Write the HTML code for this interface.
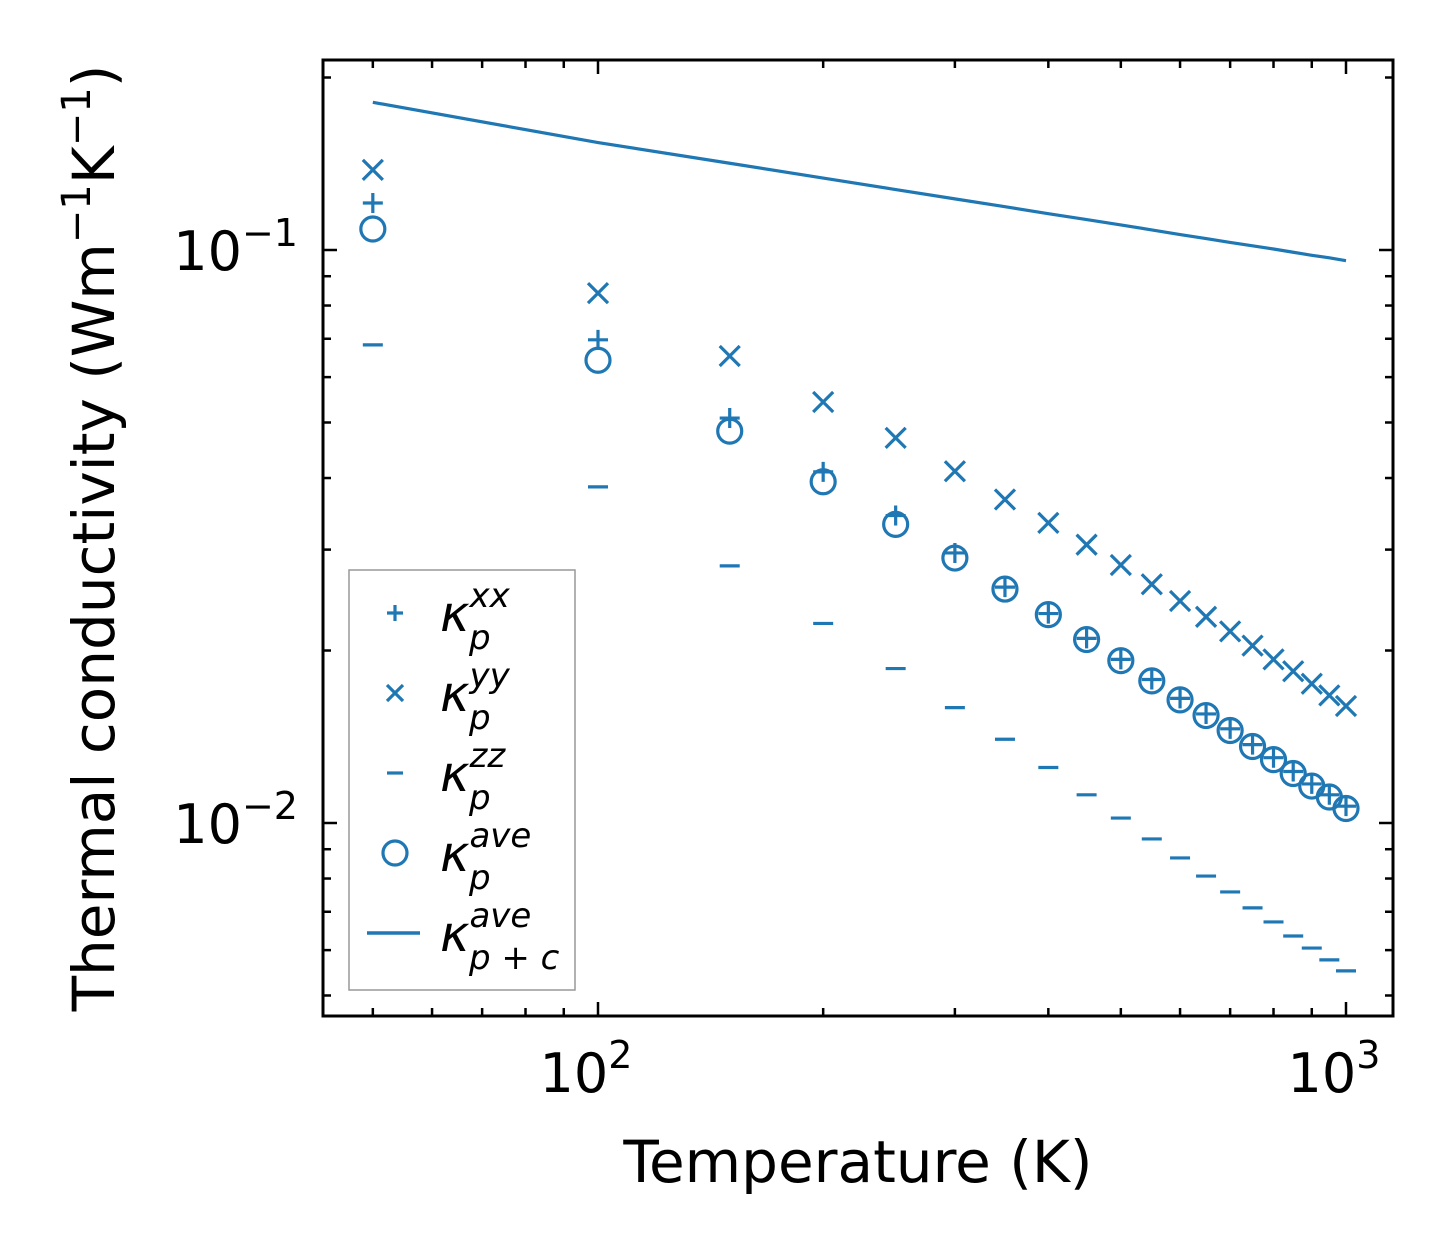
<!DOCTYPE html>
<html><head><meta charset="utf-8">
<style>
body{margin:0;background:#fff;}
svg{display:block;font-family:"DejaVu Sans","Liberation Sans",sans-serif;}
</style></head>
<body>
<svg id="chart" width="1454" height="1254" viewBox="0 0 1454 1254" xmlns="http://www.w3.org/2000/svg"></svg>
<script>
const temps=[50,100,150,200,250,300,350,400,450,500,550,600,650,700,750,800,850,900,950,1000];
const kxx=[0.1208,0.0697,0.0509,0.0410,0.0344,0.0296,0.0258,0.0232,0.0210,0.0193,0.0178,0.0165,0.0155,0.0146,0.0137,0.0130,0.0123,0.0117,0.0112,0.0107];
const kyy=[0.138,0.0841,0.0653,0.0543,0.0470,0.0411,0.0367,0.0334,0.0306,0.0282,0.0261,0.0244,0.0229,0.0216,0.0204,0.0193,0.0184,0.0175,0.0167,0.0160];
const kzz=[0.0683,0.0386,0.0281,0.0223,0.0186,0.0159,0.0140,0.0125,0.0112,0.0102,0.00938,0.00869,0.00808,0.00758,0.00711,0.00672,0.00635,0.00605,0.00577,0.00552];
const kave=[0.1088,0.0642,0.0483,0.0394,0.0332,0.0290,0.0256,0.0231,0.0209,0.0192,0.0177,0.0164,0.0154,0.0145,0.0136,0.0129,0.0122,0.0116,0.0111,0.0106];
const ktot=[0.181,0.154,0.1417,0.1335,0.1275,0.1228,0.1190,0.1157,0.1130,0.1106,0.1084,0.1064,0.1047,0.1031,0.1017,0.1004,0.0991,0.0979,0.0969,0.0958];
const xMajor=[100,1000];
const xMinor=[50,60,70,80,90,200,300,400,500,600,700,800,900];
const yMajor=[0.01,0.1];
const yMinor=[0.005,0.006,0.007,0.008,0.009,0.02,0.03,0.04,0.05,0.06,0.07,0.08,0.09,0.2];

const NS="http://www.w3.org/2000/svg";
const svg=document.getElementById('chart');
const L=323,R=1393,T=60,B=1016;
const C="#1f77b4";
function xs(v){return 598+(Math.log10(v)-2)*748;}
function ys(v){return 250-(Math.log10(v)+1)*573;}
function mk(tag,attrs,parent){const e=document.createElementNS(NS,tag);for(const k in attrs)e.setAttribute(k,attrs[k]);(parent||svg).appendChild(e);return e;}

const defs=mk('defs',{});
const cp=mk('clipPath',{id:'clip'},defs);
mk('rect',{x:L,y:T,width:R-L,height:B-T},cp);

const tg=mk('g',{stroke:'#000','stroke-width':2.5});


xMajor.forEach(v=>{const x=xs(v);mk('line',{x1:x,x2:x,y1:B,y2:B-14},tg);mk('line',{x1:x,x2:x,y1:T,y2:T+14},tg);});
xMinor.forEach(v=>{const x=xs(v);mk('line',{x1:x,x2:x,y1:B,y2:B-8},tg);mk('line',{x1:x,x2:x,y1:T,y2:T+8},tg);});
yMajor.forEach(v=>{const y=ys(v);mk('line',{x1:L,x2:L+14,y1:y,y2:y},tg);mk('line',{x1:R,x2:R-14,y1:y,y2:y},tg);});
yMinor.forEach(v=>{const y=ys(v);mk('line',{x1:L,x2:L+8,y1:y,y2:y},tg);mk('line',{x1:R,x2:R-8,y1:y,y2:y},tg);});

function powLabel(x,y,exp,anchor,name){
  const t=mk('text',{x:x,y:y,'font-size':54,'text-anchor':anchor,fill:'#000'});
  
  
  const a=mk('tspan',{},t);a.textContent='10';
  const b=mk('tspan',{dy:-24,'font-size':38},t);b.textContent=exp;
  return t;
}
powLabel(xs(100)-12,1092,'2','middle','x-tick-label-100');
powLabel(xs(1000)-12,1092,'3','middle','x-tick-label-1000');
powLabel(298,ys(0.1)+20,'\u22121','end','y-tick-label-0.1');
powLabel(298,ys(0.01)+20,'\u22122','end','y-tick-label-0.01');

const xt=mk('text',{x:858,y:1182,'font-size':58,'text-anchor':'middle',fill:'#000'});


xt.textContent='Temperature (K)';
const yt=mk('text',{x:0,y:0,'font-size':58,'text-anchor':'middle',fill:'#000',transform:'translate(114,538) rotate(-90)'});


const y1=mk('tspan',{},yt);y1.textContent='Thermal conductivity (Wm';
const y2=mk('tspan',{dy:-24,'font-size':40},yt);y2.textContent='\u22121';
const y3=mk('tspan',{dy:24},yt);y3.textContent='K';
const y4=mk('tspan',{dy:-24,'font-size':40},yt);y4.textContent='\u22121';
const y5=mk('tspan',{dy:24},yt);y5.textContent=')';

const g=mk('g',{'clip-path':'url(#clip)',stroke:C,'stroke-width':3.2,fill:'none'});


const line=mk('polyline',{points:temps.map((t,i)=>xs(t)+','+ys(ktot[i])).join(' ')},g);


const s=10;
temps.forEach((t,i)=>{
  const x=xs(t);
  let y=ys(kxx[i]);
  const p=mk('path',{d:`M${x-s} ${y}H${x+s}M${x} ${y-s}V${y+s}`},g);
  
  
  y=ys(kyy[i]);
  const q=mk('path',{d:`M${x-s} ${y-s}L${x+s} ${y+s}M${x-s} ${y+s}L${x+s} ${y-s}`},g);
  
  
  y=ys(kzz[i]);
  const z=mk('path',{d:`M${x-s} ${y}H${x+s}`},g);
  
  
  y=ys(kave[i]);
  const c=mk('circle',{cx:x,cy:y,r:12},g);
  
  
});

const fr=mk('rect',{x:L,y:T,width:R-L,height:B-T,fill:'none',stroke:'#000','stroke-width':3});



const lg=mk('g',{});


mk('rect',{x:349,y:570,width:226,height:420,fill:'#fff',stroke:'#999','stroke-width':1.5},lg);
const entries=[['xx','p','kappa-xx'],['yy','p','kappa-yy'],['zz','p','kappa-zz'],['ave','p','kappa-ave'],['ave','p + c','kappa-total']];
const ls=mk('g',{stroke:C,'stroke-width':3.2,fill:'none'},lg);
entries.forEach((e,i)=>{
  const cy=613+i*80, x=395, m=8;
  let el;
  if(i==0) el=mk('path',{d:`M${x-m} ${cy}H${x+m}M${x} ${cy-m}V${cy+m}`},ls);
  else if(i==1) el=mk('path',{d:`M${x-m} ${cy-m}L${x+m} ${cy+m}M${x-m} ${cy+m}L${x+m} ${cy-m}`},ls);
  else if(i==2) el=mk('path',{d:`M${x-m} ${cy}H${x+m}`},ls);
  else if(i==3) el=mk('circle',{cx:x,cy:cy,r:12},ls);
  else el=mk('path',{d:`M367 ${cy}H420`,'stroke-width':3.5},ls);
  
  
  const t=mk('text',{x:440,y:cy+18,'font-size':50,'font-style':'italic',fill:'#000'},lg);
  
  
  const k=mk('tspan',{},t);k.textContent='\u03BA';
  const sup=mk('tspan',{dy:-24,'font-size':34},t);sup.textContent=e[0];
  const sub=mk('tspan',{x:440+29,dy:42,'font-size':34},t);sub.textContent=e[1];
});
</script>
</body></html>
